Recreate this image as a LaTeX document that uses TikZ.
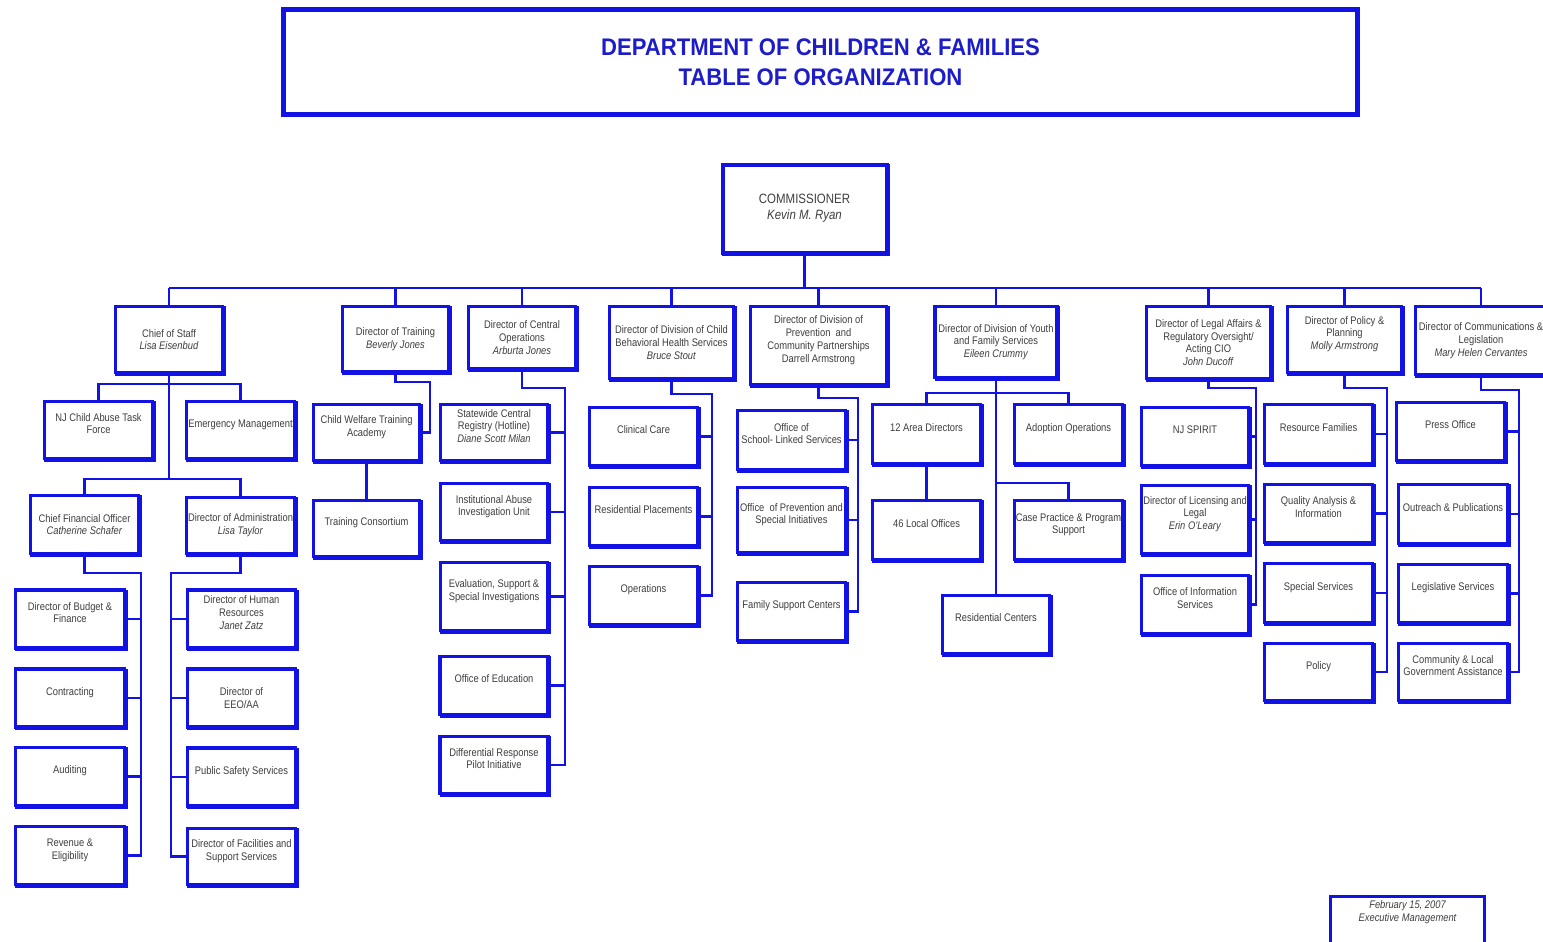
\documentclass[tikz,border=0pt]{standalone}
\usepackage{fontspec}
\setmainfont{Liberation Sans}[FakeStretch=0.85]
\newfontfamily\titlefont{Liberation Sans}[FakeStretch=0.92]
\usepackage{tikz}
\usetikzlibrary{calc}
\definecolor{dcf_blue}{RGB}{18, 18, 228}
\definecolor{dcf_navy}{RGB}{28, 28, 200}
\definecolor{dcf_grey}{RGB}{62, 62, 62}
\tikzset{
  unit/.style = {align=center, draw=dcf_blue, line width=3.5pt, fill=white, text=dcf_grey,
    inner sep=1pt, minimum width=108, minimum height=58, text depth=13pt,
    font=\fontsize{11}{12.8}\selectfont,
    preaction={draw=dcf_blue, fill=dcf_blue, transform canvas={shift={(1.5pt,-1.5pt)}}}},
  head/.style = {unit, text depth=},
  link/.style = {draw=dcf_blue, line width=2.2pt}
}

\begin{document}
\begin{tikzpicture}[x=1pt, y=-1pt,
    banner/.style={align=center, draw=dcf_blue, line width=5pt, text=dcf_navy,
      minimum width=1074, minimum height=105, font=\titlefont\fontsize{24}{30}\selectfont\bfseries},
    chief/.style={head, line width=4pt, font=\fontsize{13.5}{16}\selectfont},
    stamp/.style={align=center, draw=dcf_blue, line width=2.5pt, text=dcf_grey,
      minimum width=154, minimum height=47, text depth=17pt, font=\fontsize{11}{13}\selectfont\itshape}]
  \useasboundingbox (0,0) rectangle (1543,942);

  \node [banner] (title) at (820.5,62) {DEPARTMENT OF CHILDREN \& FAMILIES\\TABLE OF ORGANIZATION};
  \node [chief, minimum width=164, minimum height=88] (comm) at (804.5,208.5) {COMMISSIONER\\\textit{Kevin M. Ryan}};

  % division heads
  \node [head, minimum width=107, minimum height=66] (cos) at (169,339.5) {Chief of Staff\\\textit{Lisa Eisenbud}};
  \node [head, minimum width=106, minimum height=65] (dtrain) at (395.5,339) {Director of Training\\\textit{Beverly Jones}};
  \node [head, minimum width=107, minimum height=62] (dcentral) at (522,337.5) {Director of Central\\Operations\\\textit{Arburta Jones}};
  \node [head, minimum width=124, minimum height=72] (dcbhs) at (671.5,342.5) {Director of Division of Child\\Behavioral Health Services\\\textit{Bruce Stout}};
  \node [head, minimum width=136, minimum height=78, text depth=13pt] (dprev) at (818.5,345.5) {Director of Division of\\Prevention\ \ and\\Community Partnerships\\Darrell Armstrong};
  \node [head, minimum width=122, minimum height=71] (dyfs) at (996,342) {Director of Division of Youth\\and Family Services\\\textit{Eileen Crummy}};
  \node [head, minimum width=124, minimum height=72] (dlegal) at (1208.5,342.5) {Director of Legal Affairs \&\\Regulatory Oversight/\\Acting CIO\\\textit{John Ducoff}};
  \node [head, minimum width=114, minimum height=66, text depth=13pt] (dpolicy) at (1344.5,339.5) {Director of Policy \&\\Planning\\\textit{Molly Armstrong}};
  \node [head, minimum width=131, minimum height=68] (dcomm) at (1481,340.5) {Director of Communications \&\\Legislation\\\textit{Mary Helen Cervantes}};

  % chief of staff
  \node [unit, minimum height=57] (njcat) at (98.5,430) {NJ Child Abuse Task\\Force};
  \node [unit, minimum height=57] (emerg) at (240.5,430) {Emergency Management};
  \node [unit, text depth=] (cfo) at (84.5,524.5) {Chief Financial Officer\\\textit{Catherine Schafer}};
  \node [unit, text depth=, minimum height=56] (dadmin) at (240.5,525.5) {Director of Administration\\\textit{Lisa Taylor}};
  \node [unit, minimum width=109] (budget) at (70,619) {Director of Budget \&\\Finance};
  \node [unit, minimum width=109] (contract) at (70,698) {Contracting};
  \node [unit, minimum width=109] (audit) at (70,776.5) {Auditing};
  \node [unit, minimum width=109] (revenue) at (70,855.5) {Revenue \&\\Eligibility};
  \node [unit] (hr) at (241.5,619) {Director of Human\\Resources\\\textit{Janet Zatz}};
  \node [unit, text depth=] (eeo) at (241.5,698) {Director of\\EEO/AA};
  \node [unit] (pss) at (241.5,777) {Public Safety Services};
  \node [unit, minimum height=56] (facil) at (241.5,856.5) {Director of Facilities and\\Support Services};

  % training
  \node [unit, minimum width=106, minimum height=56] (cwta) at (366.5,432.5) {Child Welfare Training\\Academy};
  \node [unit, minimum width=106, minimum height=56] (tcons) at (366.5,528.5) {Training Consortium};

  % central operations
  \node [unit, minimum width=107, minimum height=56] (scr) at (494,432.5) {Statewide Central\\Registry (Hotline)\\\textit{Diane Scott Milan}};
  \node [unit, minimum width=107, minimum height=57] (iaiu) at (494,512) {Institutional Abuse\\Investigation Unit};
  \node [unit, minimum width=107, minimum height=68] (essi) at (494,596.5) {Evaluation, Support \&\\Special Investigations};
  \node [unit, minimum width=108] (oedu) at (494,685.5) {Office of Education};
  \node [unit, minimum width=108, minimum height=57] (drpi) at (494,765) {Differential Response\\Pilot Initiative};

  % child behavioral health
  \node [unit] (clin) at (643.5,436.5) {Clinical Care};
  \node [unit] (resp) at (643.5,516.5) {Residential Placements};
  \node [unit] (oper) at (643.5,595.5) {Operations};

  % prevention
  \node [unit, minimum height=59] (osls) at (791.5,440) {Office of\\School- Linked Services};
  \node [unit, minimum height=65] (opsi) at (791.5,520) {Office\ \ of Prevention and\\Special Initiatives};
  \node [unit] (fsc) at (791.5,611.5) {Family Support Centers};

  % youth and family services
  \node [unit, minimum height=59] (area) at (926.5,434) {12 Area Directors};
  \node [unit, minimum height=59] (adopt) at (1068.5,434) {Adoption Operations};
  \node [unit, minimum height=59] (local) at (926.5,530) {46 Local Offices};
  \node [unit, minimum height=59] (cpps) at (1068.5,530) {Case Practice \& Program\\Support};
  \node [unit, minimum width=107] (rescen) at (996,624.5) {Residential Centers};

  % legal affairs
  \node [unit, minimum width=107] (njspirit) at (1195,436.5) {NJ SPIRIT};
  \node [unit, minimum width=107, minimum height=68] (licens) at (1195,519.5) {Director of Licensing and\\Legal\\\textit{Erin O'Leary}};
  \node [unit, minimum width=107] (ois) at (1195,604.5) {Office of Information\\Services};

  % policy and planning
  \node [unit, minimum height=59] (resfam) at (1318.5,434) {Resource Families};
  \node [unit] (qai) at (1318.5,513.5) {Quality Analysis \&\\Information};
  \node [unit, minimum height=59] (spserv) at (1318.5,593) {Special Services};
  \node [unit, minimum height=57] (policy) at (1318.5,672) {Policy};

  % communications
  \node [unit] (press) at (1450.5,431.5) {Press Office};
  \node [unit, minimum width=109, minimum height=59] (outreach) at (1453,514) {Outreach \& Publications};
  \node [unit, minimum width=109] (legis) at (1453,593.5) {Legislative Services};
  \node [unit, minimum width=109, minimum height=57] (clga) at (1453,672) {Community \& Local\\Government Assistance};

  \node [stamp] (date) at (1407.5,920) {February 15, 2007\\Executive Management};

  % connectors
  \coordinate (bus) at (0,288);
  \draw[link] (comm.south) -- (comm.south |- bus);
  \draw[link] (cos.north |- bus) -- (dcomm.north |- bus);
  \foreach \n in {cos,dtrain,dcentral,dcbhs,dprev,dyfs,dlegal,dpolicy,dcomm}
    \draw[link] (\n.north |- bus) -- (\n.north);

  \coordinate (cosA) at (169,384);
  \coordinate (cosB) at (169,479);
  \draw[link] (cos.south) -- (cosB);
  \draw[link] (njcat.north) |- (cosA) -| (emerg.north);
  \draw[link] (cfo.north) |- (cosB) -| (dadmin.north);

  \coordinate (cfoS) at (141,573);
  \draw[link] (cfo.south) |- (cfoS) |- (revenue.east);
  \foreach \n in {budget,contract,audit}
    \draw[link] (\n.east) -- (\n.east -| cfoS);

  \coordinate (admS) at (171,573);
  \draw[link] (dadmin.south) |- (admS) |- (facil.west);
  \foreach \n in {hr,eeo,pss}
    \draw[link] (\n.west) -- (\n.west -| admS);

  \coordinate (trnS) at (430,382);
  \draw[link] (dtrain.south) |- (trnS) |- (cwta.east);
  \draw[link] (cwta) -- (tcons);

  \coordinate (cenS) at (565,388);
  \draw[link] (dcentral.south) |- (cenS) |- (drpi.east);
  \foreach \n in {scr,iaiu,essi,oedu}
    \draw[link] (\n.east) -- (\n.east -| cenS);

  \coordinate (cbhS) at (712,394);
  \draw[link] (dcbhs.south) |- (cbhS) |- (oper.east);
  \foreach \n in {clin,resp}
    \draw[link] (\n.east) -- (\n.east -| cbhS);

  \coordinate (prvS) at (858,398);
  \draw[link] (dprev.south) |- (prvS) |- (fsc.east);
  \foreach \n in {osls,opsi}
    \draw[link] (\n.east) -- (\n.east -| prvS);

  \coordinate (yfsA) at (996,393);
  \coordinate (yfsB) at (996,483);
  \draw[link] (dyfs.south) -- (rescen.north);
  \draw[link] (area.north) |- (yfsA) -| (adopt.north);
  \draw[link] (yfsB) -| (cpps.north);
  \draw[link] (area) -- (local);

  \coordinate (legS) at (1256,388);
  \draw[link] (dlegal.south) |- (legS) |- (ois.east);
  \foreach \n in {njspirit,licens}
    \draw[link] (\n.east) -- (\n.east -| legS);

  \coordinate (polS) at (1387,388);
  \draw[link] (dpolicy.south) |- (polS) |- (policy.east);
  \foreach \n in {resfam,qai,spserv}
    \draw[link] (\n.east) -- (\n.east -| polS);

  \coordinate (comS) at (1519,390);
  \draw[link] (dcomm.south) |- (comS) |- (clga.east);
  \foreach \n in {press,outreach,legis}
    \draw[link] (\n.east) -- (\n.east -| comS);
\end{tikzpicture}
\end{document}
